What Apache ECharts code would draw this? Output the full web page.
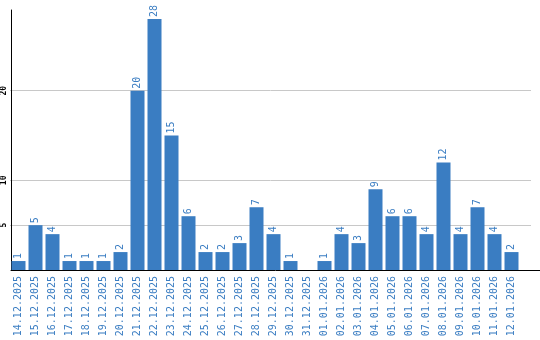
<!DOCTYPE html>
<html><head><meta charset="utf-8">
<script src="https://cdn.jsdelivr.net/npm/echarts@6/dist/echarts.min.js"></script>
<style>html,body{margin:0;padding:0;background:#fff}#c{width:540px;height:340px}</style>
</head><body><div id="c"></div>
<script>
const categories = ["14.12.2025","15.12.2025","16.12.2025","17.12.2025","18.12.2025","19.12.2025","20.12.2025","21.12.2025","22.12.2025","23.12.2025","24.12.2025","25.12.2025","26.12.2025","27.12.2025","28.12.2025","29.12.2025","30.12.2025","31.12.2025","01.01.2026","02.01.2026","03.01.2026","04.01.2026","05.01.2026","06.01.2026","07.01.2026","08.01.2026","09.01.2026","10.01.2026","11.01.2026","12.01.2026"];
const values = [1,5,4,1,1,1,2,20,28,15,6,2,2,3,7,4,1,0,1,4,3,9,6,6,4,12,4,7,4,2];
const gridValues = [5,10,20];
const yMax = 29;
const chart = echarts.init(document.getElementById('c'), null, {renderer:'canvas'});
const blue = '#3a7dc2';
const font = 'DejaVu Sans Mono';
chart.setOption({
  animation:false,
  grid:[
    {left:10,right:0,top:10,bottom:70,containLabel:false},   // axes frame
    {left:10,right:9,top:10,bottom:70,containLabel:false},   // gridlines
    {left:10,right:20,top:10,bottom:70,containLabel:false}   // bars
  ],
  xAxis:[
    {gridIndex:0,type:'value',min:0,max:1,axisLine:{show:true,onZero:false,lineStyle:{color:'#000',width:1}},
      axisTick:{show:false},axisLabel:{show:false},splitLine:{show:false}},
    {gridIndex:1,type:'value',min:0,max:1,show:false},
    {gridIndex:2,type:'category',data:categories,
      axisLine:{show:false},axisTick:{show:false},splitLine:{show:false},
      axisLabel:{rotate:90,color:blue,fontFamily:font,fontSize:10,margin:6,interval:0}}
  ],
  yAxis:[
    {gridIndex:0,type:'value',min:0,max:yMax,
      axisLine:{show:true,lineStyle:{color:'#000',width:1}},
      axisTick:{show:false,customValues:gridValues},splitLine:{show:false},
      axisLabel:{customValues:gridValues,rotate:90,color:'#000',fontFamily:font,fontSize:8,fontWeight:'bold',margin:3}},
    {gridIndex:1,type:'value',min:0,max:yMax,
      axisLine:{show:false},axisLabel:{show:false},
      axisTick:{show:false,customValues:gridValues},
      splitLine:{show:true,lineStyle:{color:'#c8c8c8',width:1}}},
    {gridIndex:2,type:'value',min:0,max:yMax,show:false,splitLine:{show:false}}
  ],
  series:[{type:'bar',xAxisIndex:2,yAxisIndex:2,data:values,barWidth:14,itemStyle:{color:blue},
    label:{show:true,position:'top',rotate:90,align:'left',verticalAlign:'middle',distance:2,
      color:blue,fontFamily:font,fontSize:10,
      formatter:p=>p.value===0?'':String(p.value)}
  }]
});
</script></body></html>
